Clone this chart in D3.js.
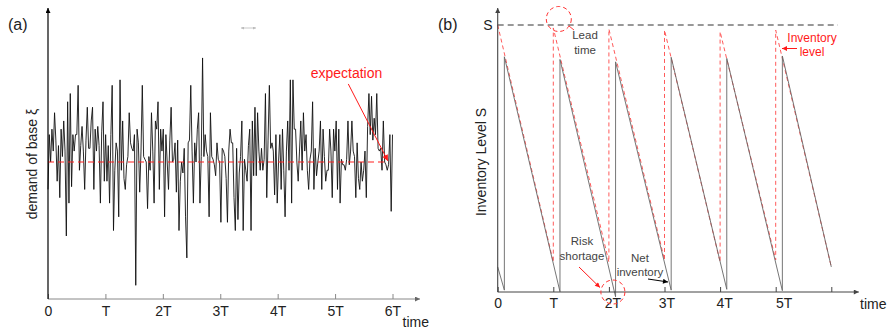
<!DOCTYPE html>
<html><head><meta charset="utf-8">
<script src="https://cdn.jsdelivr.net/npm/d3@7"></script>
<style>
body{margin:0;background:#fff}
svg{display:block}
text{font-family:"Liberation Sans",Arial,sans-serif}
</style>
</head><body>
<svg id="c" width="895" height="332"></svg>
<script>
// ---------- Panel (a): demand of base ξ ----------
const demand = [
40,60,50,62,54,68,58,43,56,37, 62,52,65,54,23,72,35,75,41,60, 54,60,60,78,47,56,63,54,40,58, 70,55,55,65,70,40,62,54,63,56, 35,61,72,43,60,
43,56,35,60,78,25,47,57,54,30, 80,47,65,44,40,49,52,68,57,55, 54,60,5,62,57,39,54,78,52,51, 50,33,52,47,68,54,35,65,62,72, 40,62,54,62,30,
60,50,40,58,70,50,51,57,39,58, 25,43,50,46,55,30,15,57,58,78, 54,35,57,50,62,68,35,52,88,52, 60,54,52,30,68,52,51,49,45,57, 51,50,28,55,54,
52,44,28,54,62,57,57,37,25,55, 29,46,52,65,25,51,47,43,56,62, 25,65,45,70,45,68,54,47,55,47, 51,75,37,58,78,55,57,54,38,60, 35,50,60,40,
62,47,30,54,65,47,80,35,80,62, 62,50,43,54,65,47,68,54,60,47, 40,51,54,72,40,55,45,50,54,65, 40,62,52,43,47,47,62,54,37,62, 54,65,40,62,
35,51,49,49,47,51,65,49,54,65, 54,52,37,57,44,40,50,43,47,54, 37,63,75,60,74,58,66,60,75,55, 54,55,47,65,50,49,47,49,60,32, 60
];
const expectation = 50;
const expectationEnd = 5.9;            // in periods T
const periodTicks = [0,1,2,3,4,5,6];
const periodLabelsA = ["0","T","2T","3T","4T","5T","6T"];

// ---------- Panel (b): inventory level ----------
const S = 100;
const leadTime = 0.12;                   // fraction of T
const positionTop = [100, 98.9, 98.5, 98.1, 97.5, 98.1];      // inventory position right after ordering at kT
const positionBeforeOrder = [null, 11.2, 11.2, 12.0, 11.2, 12.0]; // just before ordering at kT
const positionEnd = 9.4;                 // at 6T
const netStart = 9.4;                    // net inventory at t=0
const netLow = [0.7, 0.1, -1.8, 0.7, 1.0, 0.5];  // just before arrival at kT+L
const netPeak = [88.1, 87.1, 86.2, 87.9, 87.5, 88.4]; // right after arrival
const netEnd = 9.4;                      // at 6T
const periodLabelsB = ["0","T","2T","3T","4T","5T",""];

const svg = d3.select("#c");
const defs = svg.append("defs");
function marker(id, color, w, h){
  defs.append("marker").attr("id", id).attr("viewBox","0 0 10 10")
    .attr("refX",10).attr("refY",5).attr("markerUnits","userSpaceOnUse")
    .attr("markerWidth",w).attr("markerHeight",h).attr("orient","auto-start-reverse")
    .append("path").attr("d","M0,0L10,5L0,10z").attr("fill",color);
}
marker("arBlack","#000",8,5);
marker("arGray","#666",8,5);
marker("arDark","#444",8,5);
marker("arRed","#ff1a1a",8,6);
marker("arRedS","#ff1a1a",7,5);
marker("arLight","#bbb",4,3);

// ===== Panel A =====
const xA = d3.scaleLinear().domain([0,6]).range([48, 392.5]);
const yA = d3.scaleLinear().domain([0,105.5]).range([299, 10]);
const gA = svg.append("g");

gA.append("path")
  .datum(demand)
  .attr("fill","none").attr("stroke","#111").attr("stroke-width",0.9)
  .attr("stroke-linejoin","miter")
  .attr("d", d3.line().x((d,i)=>xA(i*6/(demand.length-1))).y(d=>yA(d)));

gA.append("line")
  .attr("x1",xA(0)).attr("x2",xA(expectationEnd))
  .attr("y1",yA(expectation)).attr("y2",yA(expectation))
  .attr("stroke","#ff2020").attr("stroke-width",1.1).attr("stroke-dasharray","6,4");

const axA = d3.axisBottom(xA).tickValues(periodTicks).tickFormat(i=>periodLabelsA[i])
  .tickSizeInner(-5).tickSizeOuter(0).tickPadding(7);
const axAg = gA.append("g").attr("transform",`translate(0,${yA(0)})`).call(axA);
axAg.select(".domain").remove();
axAg.selectAll(".tick line").attr("stroke","#888");
axAg.selectAll(".tick text").attr("font-size",14).attr("fill","#222")
  .attr("font-family","Liberation Sans, Arial, sans-serif");

gA.append("line").attr("x1",xA(0)).attr("x2",xA(6)+27.5).attr("y1",yA(0)).attr("y2",yA(0))
  .attr("stroke","#888").attr("stroke-width",1).attr("marker-end","url(#arGray)");
gA.append("line").attr("x1",xA(0)).attr("x2",xA(0)).attr("y1",yA(0)).attr("y2",yA.range()[1]-2)
  .attr("stroke","#000").attr("stroke-width",1.2).attr("marker-end","url(#arBlack)");

gA.append("text").attr("x",xA(6)+10).attr("y",327).attr("font-size",14).attr("fill","#222").text("time");
gA.append("text").attr("x",8).attr("y",30).attr("font-size",16).attr("fill","#222").text("(a)");
gA.append("text").attr("transform",`translate(37,164) rotate(-90)`).attr("text-anchor","middle")
  .attr("font-size",14).attr("fill","#222").text("demand of base ξ");
gA.append("text").attr("x",346.5).attr("y",78).attr("text-anchor","middle")
  .attr("font-size",14).attr("fill","#ff1a1a").text("expectation");
gA.append("line").attr("x1",xA(5.23)).attr("y1",yA(78.5)).attr("x2",xA(5.92)).attr("y2",yA(50.4))
  .attr("stroke","#ff1a1a").attr("stroke-width",1).attr("marker-end","url(#arRed)");
// small light mark
gA.append("line").attr("x1",241).attr("x2",256).attr("y1",28).attr("y2",28)
  .attr("stroke","#bbb").attr("stroke-width",0.8)
  .attr("marker-start","url(#arLight)").attr("marker-end","url(#arLight)");

// ===== Panel B =====
const xB = d3.scaleLinear().domain([0,6]).range([497.7, 831.3]);
const yB = d3.scaleLinear().domain([0,100]).range([292, 25]);
const gB = svg.append("g");

// S line
gB.append("line").attr("x1",xB(0)).attr("x2",xB(6+leadTime))
  .attr("y1",yB(S)).attr("y2",yB(S))
  .attr("stroke","#333").attr("stroke-width",1).attr("stroke-dasharray","6,4");

// inventory position (red dashed)
const posPts = [[0, positionTop[0]]];
for(let k=1;k<positionTop.length;k++){ posPts.push([k, positionBeforeOrder[k]]); posPts.push([k, positionTop[k]]); }
posPts.push([6, positionEnd]);
gB.append("path").datum(posPts).attr("fill","none").attr("stroke","#ff5a5a").attr("stroke-width",1)
  .attr("stroke-dasharray","4,3")
  .attr("d", d3.line().x(d=>xB(d[0])).y(d=>yB(d[1])));

// net inventory (solid gray)
const netPts = [[0, netStart]];
netPeak.forEach((p,k)=>{ netPts.push([k+leadTime, netLow[k]]); netPts.push([k+leadTime, p]); });
netPts.push([6, netEnd]);
gB.append("path").datum(netPts).attr("fill","none").attr("stroke","#666").attr("stroke-width",0.9)
  .attr("d", d3.line().x(d=>xB(d[0])).y(d=>yB(d[1])));

const labelShiftB = [0,0,3.5,2,4,8,0];
const axB = d3.axisBottom(xB).tickValues(periodTicks).tickFormat(i=>periodLabelsB[i])
  .tickSizeInner(-5).tickSizeOuter(0).tickPadding(6);
const axBg = gB.append("g").attr("transform",`translate(0,${yB(0)})`).call(axB);
axBg.select(".domain").remove();
axBg.selectAll(".tick line").attr("stroke","#444");
axBg.selectAll(".tick text").attr("font-size",14).attr("fill","#222")
  .attr("font-family","Liberation Sans, Arial, sans-serif")
  .attr("dx",(d)=>labelShiftB[d]);

gB.append("line").attr("x1",xB(0)).attr("x2",xB(6)+27.5).attr("y1",yB(0)).attr("y2",yB(0))
  .attr("stroke","#444").attr("stroke-width",1).attr("marker-end","url(#arDark)");
gB.append("line").attr("x1",xB(0)).attr("x2",xB(0)).attr("y1",yB(0)).attr("y2",8)
  .attr("stroke","#444").attr("stroke-width",1.1).attr("marker-end","url(#arDark)");

gB.append("text").attr("x",860).attr("y",309).attr("font-size",14).attr("fill","#222").text("time");
gB.append("text").attr("x",438).attr("y",30).attr("font-size",16).attr("fill","#222").text("(b)");
gB.append("text").attr("x",xB(0)-5).attr("y",yB(S)+5).attr("text-anchor","end")
  .attr("font-size",14).attr("fill","#222").text("S");
gB.append("text").attr("transform",`translate(486,162) rotate(-90)`).attr("text-anchor","middle")
  .attr("font-size",14).attr("fill","#222").text("Inventory Level S");

// annotations
const annCol = "#444";
gB.append("circle").attr("cx",xB(1)+5.5).attr("cy",19).attr("r",12.5)
  .attr("fill","none").attr("stroke","#ff3030").attr("stroke-dasharray","4,3");
gB.append("line").attr("x1",574).attr("y1",30).attr("x2",569).attr("y2",26)
  .attr("stroke","#ff3030").attr("stroke-width",0.9);
gB.append("text").attr("x",585).attr("y",38.5).attr("text-anchor","middle").attr("font-size",11.5).attr("fill",annCol).text("Lead");
gB.append("text").attr("x",585).attr("y",53.5).attr("text-anchor","middle").attr("font-size",11.5).attr("fill",annCol).text("time");

gB.append("text").attr("x",812).attr("y",42).attr("text-anchor","middle").attr("font-size",12).attr("fill","#ff1a1a").text("Inventory");
gB.append("text").attr("x",812).attr("y",55.5).attr("text-anchor","middle").attr("font-size",12).attr("fill","#ff1a1a").text("level");
gB.append("line").attr("x1",797).attr("y1",48.5).attr("x2",782).attr("y2",48.5)
  .attr("stroke","#ff1a1a").attr("stroke-width",1).attr("marker-end","url(#arRedS)");

gB.append("text").attr("x",582).attr("y",245).attr("text-anchor","middle").attr("font-size",11.5).attr("fill",annCol).text("Risk");
gB.append("text").attr("x",582).attr("y",259.5).attr("text-anchor","middle").attr("font-size",11.5).attr("fill",annCol).text("shortage");
gB.append("line").attr("x1",579).attr("y1",267).attr("x2",600).attr("y2",287.5)
  .attr("stroke","#ff1a1a").attr("stroke-width",1).attr("marker-end","url(#arRedS)");
gB.append("circle").attr("cx",xB(2)+4).attr("cy",yB(0)).attr("r",12)
  .attr("fill","none").attr("stroke","#ff3030").attr("stroke-dasharray","4,3");

gB.append("text").attr("x",640).attr("y",262).attr("text-anchor","middle").attr("font-size",11.5).attr("fill",annCol).text("Net");
gB.append("text").attr("x",640).attr("y",276).attr("text-anchor","middle").attr("font-size",11.5).attr("fill",annCol).text("inventory");
gB.append("line").attr("x1",648).attr("y1",279).attr("x2",668).attr("y2",282)
  .attr("stroke","#000").attr("stroke-width",1).attr("marker-end","url(#arBlack)");
</script>
</body></html>
